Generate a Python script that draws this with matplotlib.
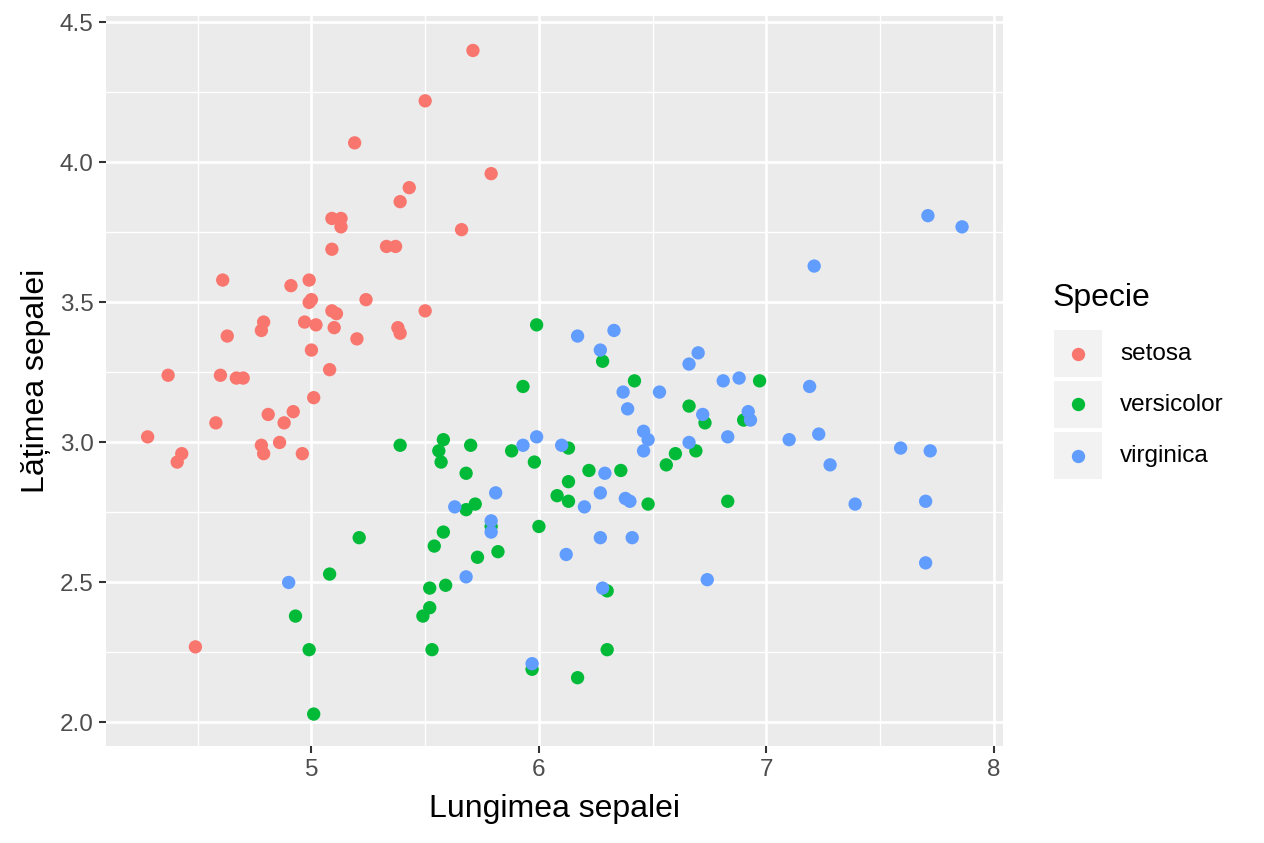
import matplotlib
matplotlib.use("Agg")
import matplotlib.pyplot as plt
from matplotlib.patches import Rectangle
from matplotlib.lines import Line2D
from matplotlib.ticker import MultipleLocator

plt.rcParams['font.family'] = ['Liberation Sans', 'DejaVu Sans']

species = ["setosa", "versicolor", "virginica"]
colors = ["#F8766D", "#00BA38", "#619CFF"]

setosa_x = [5.71, 5.50, 5.19, 5.79, 5.43, 5.39, 5.09, 5.13, 5.13, 5.66, 5.09, 5.33, 5.37,
            4.61, 4.99, 4.91, 5.24, 4.99, 5.50, 5.09, 5.11, 4.79, 4.97, 5.02, 4.78, 4.63,
            5.10, 5.20, 5.38, 5.39, 5.00, 5.08, 4.37, 4.60, 4.67, 4.70, 5.01, 4.81, 4.92,
            4.88, 4.58, 4.28, 4.78, 4.86, 4.43, 4.41, 4.79, 4.96, 4.49, 5.00]
setosa_y = [4.40, 4.22, 4.07, 3.96, 3.91, 3.86, 3.80, 3.80, 3.77, 3.76, 3.69, 3.70, 3.70,
            3.58, 3.58, 3.56, 3.51, 3.50, 3.47, 3.47, 3.46, 3.43, 3.43, 3.42, 3.40, 3.38,
            3.41, 3.37, 3.41, 3.39, 3.33, 3.26, 3.24, 3.24, 3.23, 3.23, 3.16, 3.10, 3.11,
            3.07, 3.07, 3.02, 2.99, 3.00, 2.96, 2.93, 2.96, 2.96, 2.27, 3.51]

versicolor_x = [5.99, 6.28, 6.42, 6.97, 5.93, 6.66, 6.90, 6.73, 5.39, 5.58, 5.70, 5.56,
                5.88, 5.57, 5.98, 6.13, 6.60, 6.69, 6.56, 5.68, 6.22, 6.36, 6.13, 6.08,
                6.13, 6.48, 6.83, 5.72, 5.68, 5.79, 6.00, 5.58, 5.54, 5.21, 5.73, 5.82,
                5.08, 5.52, 5.59, 6.30, 5.52, 5.49, 4.93, 6.30, 4.99, 5.53, 5.97, 6.17,
                5.01]
versicolor_y = [3.42, 3.29, 3.22, 3.22, 3.20, 3.13, 3.08, 3.07, 2.99, 3.01, 2.99, 2.97,
                2.97, 2.93, 2.93, 2.98, 2.96, 2.97, 2.92, 2.89, 2.90, 2.90, 2.86, 2.81,
                2.79, 2.78, 2.79, 2.78, 2.76, 2.70, 2.70, 2.68, 2.63, 2.66, 2.59, 2.61,
                2.53, 2.48, 2.49, 2.47, 2.41, 2.38, 2.38, 2.26, 2.26, 2.26, 2.19, 2.16,
                2.03]

virginica_x = [7.71, 7.86, 7.21, 6.33, 6.17, 6.27, 6.70, 6.66, 6.88, 6.81, 7.19, 6.37,
               6.53, 6.39, 6.72, 6.92, 6.93, 6.46, 6.48, 6.46, 6.66, 6.83, 7.10, 7.23,
               5.99, 5.93, 6.10, 7.59, 7.72, 7.28, 6.29, 6.27, 6.38, 6.40, 6.20, 5.81,
               5.63, 5.79, 5.79, 7.39, 7.70, 6.27, 6.41, 6.12, 5.68, 6.74, 6.28, 7.70,
               4.90, 5.97]
virginica_y = [3.81, 3.77, 3.63, 3.40, 3.38, 3.33, 3.32, 3.28, 3.23, 3.22, 3.20, 3.18,
               3.18, 3.12, 3.10, 3.11, 3.08, 3.04, 3.01, 2.97, 3.00, 3.02, 3.01, 3.03,
               3.02, 2.99, 2.99, 2.98, 2.97, 2.92, 2.89, 2.82, 2.80, 2.79, 2.77, 2.82,
               2.77, 2.72, 2.68, 2.78, 2.79, 2.66, 2.66, 2.60, 2.52, 2.51, 2.48, 2.57,
               2.50, 2.21]

xs = [setosa_x, versicolor_x, virginica_x]
ys = [setosa_y, versicolor_y, virginica_y]

W, H = 1264, 843
fig = plt.figure(figsize=(W / 100, H / 100), dpi=100)
L, R, T, B = 106, 1003, 16, 746
ax = fig.add_axes([L / W, 1 - B / H, (R - L) / W, (B - T) / H])
ax.set_facecolor("#EBEBEB")
for s in ax.spines.values():
    s.set_visible(False)

ax.set_xlim(4.097, 8.04)
ax.set_ylim(1.916, 4.523)
ax.xaxis.set_major_locator(MultipleLocator(1))
ax.xaxis.set_minor_locator(MultipleLocator(0.5))
ax.yaxis.set_major_locator(MultipleLocator(0.5))
ax.yaxis.set_minor_locator(MultipleLocator(0.25))
ax.set_yticks([2.0, 2.5, 3.0, 3.5, 4.0, 4.5])
ax.set_yticklabels(["2.0", "2.5", "3.0", "3.5", "4.0", "4.5"])
ax.set_xticks([5, 6, 7, 8])
ax.set_xticklabels(["5", "6", "7", "8"])

ax.grid(which="major", color="white", linewidth=1.9)
ax.grid(which="minor", color="white", linewidth=1.0)
ax.set_axisbelow(True)
ax.tick_params(which="minor", length=0)
ax.tick_params(which="major", length=5, width=1.5, color="#333333",
               labelsize=17.5, labelcolor="#4D4D4D", pad=4)

for x, y, c in zip(xs, ys, colors):
    ax.scatter(x, y, s=92, color=c, edgecolors="none", zorder=3)

ax.set_xlabel("Lungimea sepalei", fontsize=23, color="black", labelpad=10)
ax.set_ylabel("Lățimea sepalei", fontsize=23, color="black", labelpad=6)

# legend
fig.text(1053 / W, 1 - 298 / H, "Specie", fontsize=23, va="center", ha="left")
key_tops = [330, 381, 432]
for name, c, top in zip(species, colors, key_tops):
    fig.add_artist(Rectangle((1054 / W, 1 - (top + 47) / H), 48 / W, 47 / H,
                             transform=fig.transFigure, facecolor="#F2F2F2",
                             edgecolor="none"))
    fig.add_artist(Line2D([1078 / W], [1 - (top + 23.5) / H], transform=fig.transFigure,
                          marker="o", markersize=9.6, color=c, markeredgewidth=0,
                          linestyle="none"))
    fig.text(1120 / W, 1 - (top + 24) / H, name, fontsize=17.5, va="center", ha="left")

fig.savefig("out.png", dpi=100)
